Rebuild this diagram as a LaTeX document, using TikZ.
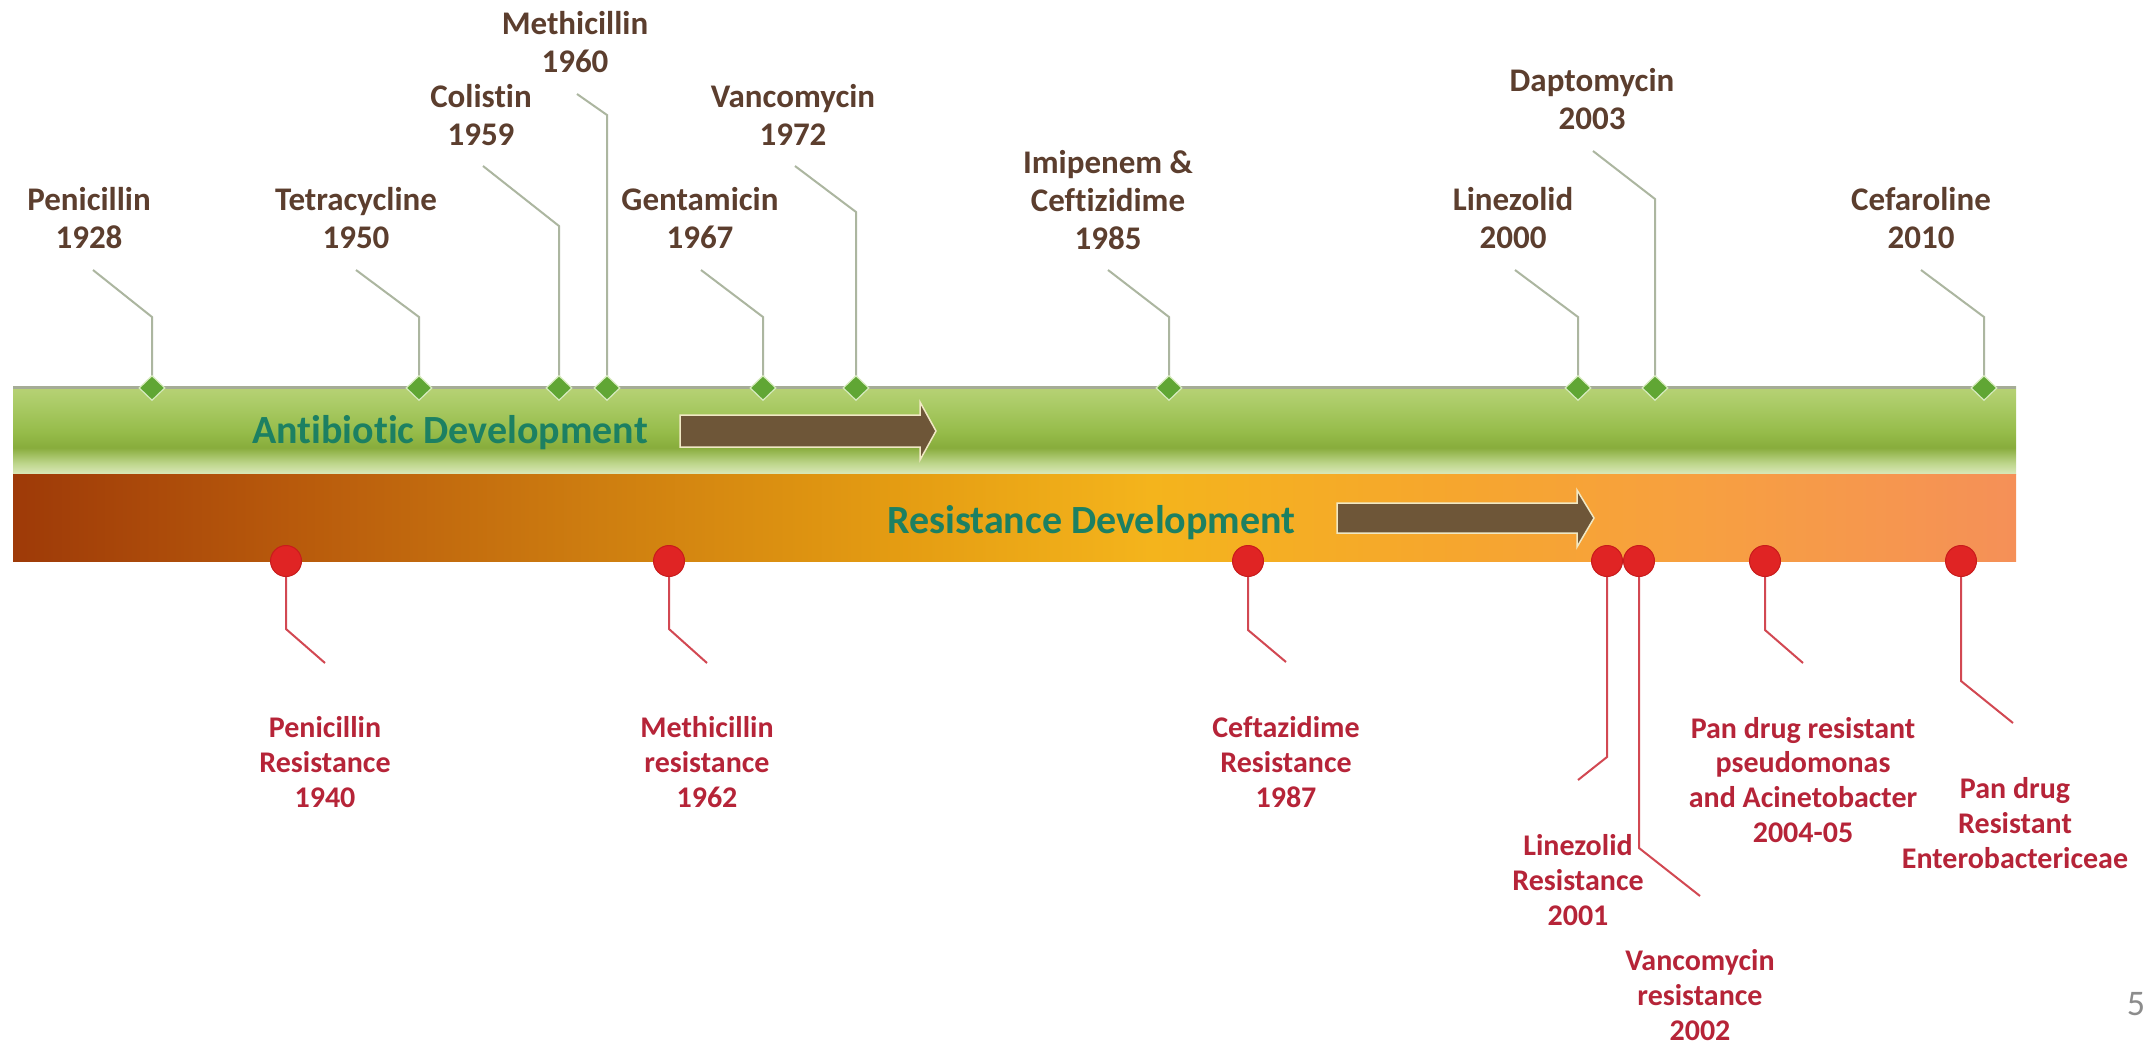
\documentclass[tikz,border=0pt]{standalone}
\usepackage{fontspec}
\setmainfont{Carlito}[Ligatures={NoCommon}]
\usetikzlibrary{shapes.geometric}

\definecolor{topbrown}{RGB}{92,62,46}
\definecolor{botred}{RGB}{182,36,56}
\definecolor{headteal}{RGB}{28,128,98}
\definecolor{dgreen}{RGB}{96,166,52}
\definecolor{dgreenedge}{RGB}{215,235,190}
\definecolor{redfill}{RGB}{224,36,36}
\definecolor{rededge}{RGB}{200,28,28}
\definecolor{leadgray}{RGB}{172,182,160}
\definecolor{leadred}{RGB}{210,72,82}
\definecolor{arrowbrown}{RGB}{110,86,56}
\definecolor{arrowedge}{RGB}{240,232,196}
\definecolor{barborder}{RGB}{165,172,150}
\definecolor{pagegray}{RGB}{140,140,140}

\definecolor{gA}{RGB}{218,232,186}
\definecolor{gB}{RGB}{190,214,140}
\definecolor{gC}{RGB}{136,172,60}
\definecolor{gD}{RGB}{150,188,74}
\definecolor{gE}{RGB}{172,204,104}
\definecolor{gF}{RGB}{184,210,118}

\definecolor{oA}{RGB}{158,58,8}
\definecolor{oB}{RGB}{184,90,12}
\definecolor{oC}{RGB}{206,126,16}
\definecolor{oD}{RGB}{228,156,18}
\definecolor{oE}{RGB}{244,180,28}
\definecolor{oF}{RGB}{246,166,46}
\definecolor{oG}{RGB}{247,160,64}
\definecolor{oH}{RGB}{245,144,88}

\pgfdeclareverticalshading{greenbar}{100bp}{color(0bp)=(gA); color(25bp)=(gA); color(31bp)=(gB); color(40bp)=(gC); color(49bp)=(gD); color(66bp)=(gE); color(75bp)=(gF); color(100bp)=(gF)}
\pgfdeclarehorizontalshading{orangebar}{100bp}{color(0bp)=(oA); color(25bp)=(oA); color(32bp)=(oB); color(39.7bp)=(oC); color(47bp)=(oD); color(53.4bp)=(oE); color(61bp)=(oF); color(67bp)=(oG); color(75bp)=(oH); color(100bp)=(oH)}

\tikzset{
  toplab/.style={font=\fontsize{33}{38}\selectfont\bfseries, text=topbrown, align=center, anchor=base, inner sep=0pt},
  botlab/.style={font=\fontsize{30}{34.6}\selectfont\bfseries, text=botred, align=center, anchor=base, inner sep=0pt},
  greentick/.style={diamond, fill=dgreen, draw=dgreenedge, line width=1.2pt, inner sep=0pt, minimum width=26pt, minimum height=25pt},
  redpin/.style={circle, fill=redfill, draw=rededge, line width=1pt, inner sep=0pt, minimum size=31pt},
  upleader/.style={draw=leadgray, line width=2pt},
  downleader/.style={draw=leadred, line width=2pt},
  headline/.style={font=\fontsize{40}{48}\selectfont\bfseries, text=headteal, anchor=base west, inner sep=0pt},
  bigarrow/.style={fill=arrowbrown, draw=arrowedge, line width=1.5pt, line join=miter},
}

\begin{document}
\begin{tikzpicture}[x=1pt,y=-1pt]
\useasboundingbox[fill=white] (0,0) rectangle (2156,1045);

% bars
\shade[shading=greenbar] (13,386) rectangle (2016,474);
\draw[barborder, line width=3pt] (13,387.5) -- (2016,387.5);
\shade[shading=orangebar] (13,474) rectangle (2016,561);

% headlines and arrows
\node[headline] (antdev) at (252,443) {Antibiotic Development};
\filldraw[bigarrow] (680,415) -- (920,415) -- (920,402) -- (936,431) -- (920,460) -- (920,447) -- (680,447) -- cycle;
\node[headline] (resdev) at (887,533) {Resistance Development};
\filldraw[bigarrow] (1337,503) -- (1577,503) -- (1577,490) -- (1594,518) -- (1577,547) -- (1577,533) -- (1337,533) -- cycle;

% ---------- antibiotic development (top) ----------
\node[toplab] (t1) at (89,248) {Penicillin\\1928};
\node[toplab] (t2) at (356,248) {Tetracycline\\1950};
\node[toplab] (t3) at (481,145) {Colistin\\1959};
\node[toplab] (t4) at (575,72) {Methicillin\\1960};
\node[toplab] (t5) at (700,248) {Gentamicin\\1967};
\node[toplab] (t6) at (793,145) {Vancomycin\\1972};
\node[toplab] (t7) at (1108,249) {Imipenem \&\\Ceftizidime\\1985};
\node[toplab] (t8) at (1513,248) {Linezolid\\2000};
\node[toplab] (t9) at (1592,129) {Daptomycin\\2003};
\node[toplab] (t10) at (1921,248) {Cefaroline\\2010};

\coordinate (s1) at (93,270);   \coordinate (b1) at (152,317);
\coordinate (s2) at (356,270);  \coordinate (b2) at (419,317);
\coordinate (s3) at (483,166);  \coordinate (b3) at (559,226);
\coordinate (s4) at (577,94);   \coordinate (b4) at (607,115);
\coordinate (s5) at (701,270);  \coordinate (b5) at (763,317);
\coordinate (s6) at (795,166);  \coordinate (b6) at (856,212);
\coordinate (s7) at (1108,270); \coordinate (b7) at (1169,317);
\coordinate (s8) at (1515,270); \coordinate (b8) at (1578,317);
\coordinate (s9) at (1593,151); \coordinate (b9) at (1655,199);
\coordinate (s10) at (1921,270);\coordinate (b10) at (1984,317);

\foreach \i/\x in {1/152,2/419,3/559,4/607,5/763,6/856,7/1169,8/1578,9/1655,10/1984}{
  \draw[upleader] (s\i) -- (b\i) -- (\x,388);
}
\foreach \i/\x in {1/152,2/419,3/559,4/607,5/763,6/856,7/1169,8/1578,9/1655,10/1984}{
  \node[greentick] (d\i) at (\x,388) {};
}

% ---------- resistance development (bottom) ----------
\node[botlab] (r1) at (325,807) {Penicillin\\Resistance\\1940};
\node[botlab] (r2) at (707,807) {Methicillin\\resistance\\1962};
\node[botlab] (r3) at (1286,807) {Ceftazidime\\Resistance\\1987};
\node[botlab] (r4) at (1578,925) {Linezolid\\Resistance\\2001};
\node[botlab] (r5) at (1700,1040) {Vancomycin\\resistance\\2002};
\node[botlab] (r6) at (1803,842) {Pan drug resistant\\pseudomonas\\and Acinetobacter\\2004-05};
\node[botlab] (r7) at (2015,868) {Pan drug\\Resistant\\Enterobactericeae};

\coordinate (v1) at (286,629);  \coordinate (e1) at (325,663);
\coordinate (v2) at (669,629);  \coordinate (e2) at (707,663);
\coordinate (v3) at (1248,630); \coordinate (e3) at (1286,662);
\coordinate (v4) at (1607,757); \coordinate (e4) at (1578,780);
\coordinate (v5) at (1639,848); \coordinate (e5) at (1700,896);
\coordinate (v6) at (1765,630); \coordinate (e6) at (1803,663);
\coordinate (v7) at (1961,681); \coordinate (e7) at (2013,723);

\foreach \i/\x in {1/286,2/669,3/1248,4/1607,5/1639,6/1765,7/1961}{
  \draw[downleader] (\x,561) -- (v\i) -- (e\i);
}
\foreach \i/\x in {1/286,2/669,3/1248,4/1607,5/1639,6/1765,7/1961}{
  \node[redpin] (c\i) at (\x,561) {};
}

\node[font=\fontsize{36}{40}\selectfont, text=pagegray, inner sep=0pt] (pg) at (2136,1004) {5};
\end{tikzpicture}
\end{document}
